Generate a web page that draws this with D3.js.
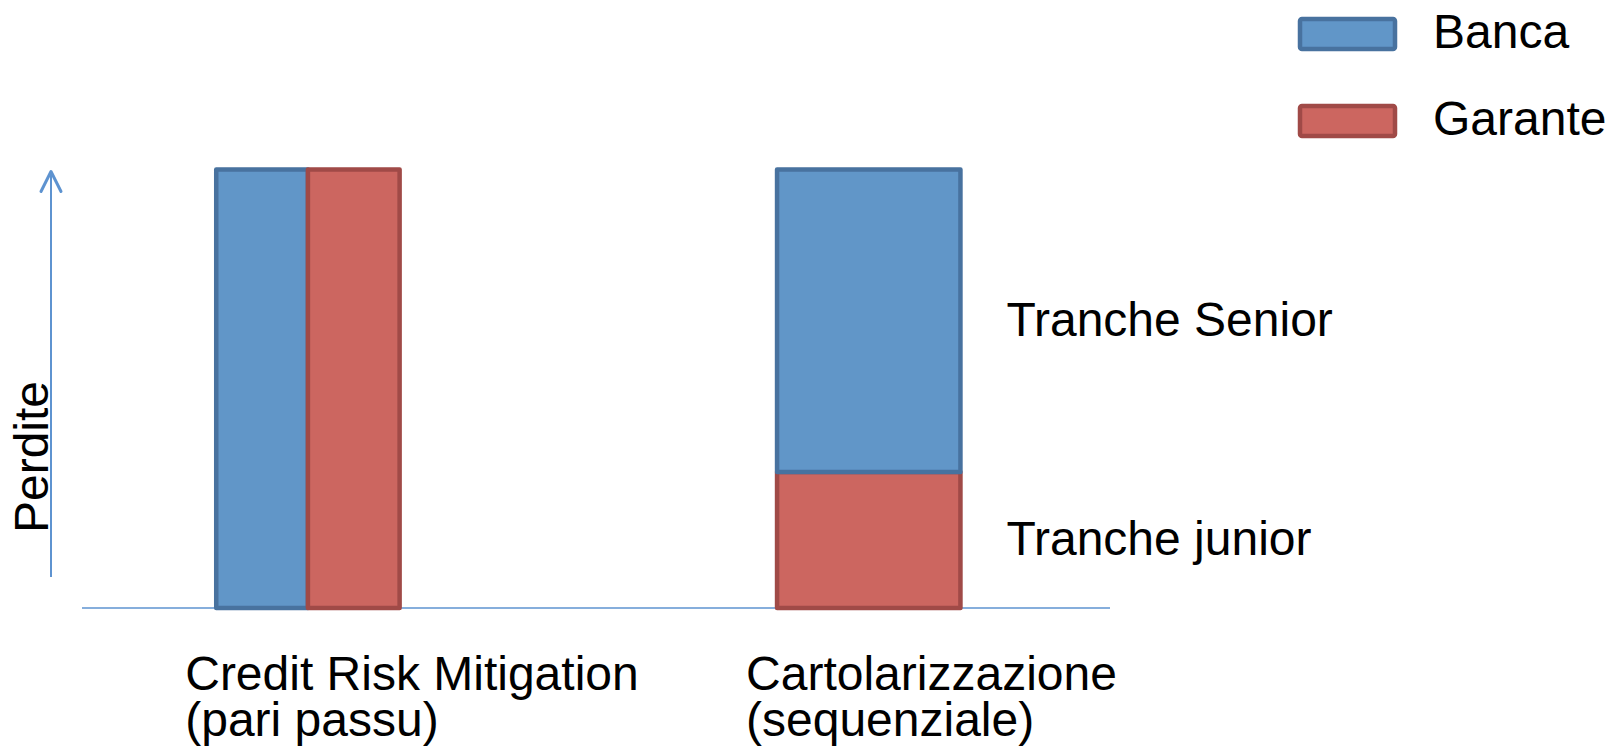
<!DOCTYPE html>
<html>
<head>
<meta charset="utf-8">
<script src="https://cdn.jsdelivr.net/npm/d3@7"></script>
<style>
  html, body { margin: 0; padding: 0; background: #fff; }
  svg text { font-family: "Liberation Sans", Arial, sans-serif; fill: #000; }
</style>
</head>
<body>
<div id="chart"></div>
<script>
// data
const categories = ['Credit Risk Mitigation', 'Cartolarizzazione'];
const categorySubtitles = ['(pari passu)', '(sequenziale)'];
const series = ['Banca', 'Garante'];
// pari passu: both take losses side by side (full height each)
const pariPassu = [100, 100];
// sequenziale: Garante takes the junior tranche first, Banca the senior
const sequenziale = [69, 31];
const trancheLabels = ['Tranche Senior', 'Tranche junior'];
const axisLabel = 'Perdite';

const width = 1615, height = 753;
const fontSize = 48;

const fills = { Banca: '#6196C8', Garante: '#CC6660' };
const strokes = { Banca: '#48729F', Garante: '#A04A47' };
const axisColor = '#5E93D0';

let svg = d3.select('#chart').append('svg')
  .attr('width', width)
  .attr('height', height);

let x = d3.scaleBand()
  .domain(categories)
  .range([82, 1110])
  .paddingInner(0.673)
  .paddingOuter(0.253)
  .align(0.473);

let y = d3.scaleLinear()
  .domain([0, 100])
  .range([608, 169.5]);

let xSub = d3.scaleBand()
  .domain(series)
  .range([0, x.bandwidth()]);

// baseline
svg.append('line')
  .attr('x1', x.range()[0]).attr('x2', x.range()[1])
  .attr('y1', y(0)).attr('y2', y(0))
  .attr('stroke', axisColor)
  .attr('stroke-width', 1.5);

// vertical arrow
svg.append('line')
  .attr('x1', 51).attr('x2', 51)
  .attr('y1', y(0) - 31).attr('y2', y(100) + 2)
  .attr('stroke', axisColor)
  .attr('stroke-width', 2);
svg.append('path')
  .attr('d', `M 41 ${y(100) + 22} L 51 ${y(100) + 2} L 61 ${y(100) + 22}`)
  .attr('fill', 'none')
  .attr('stroke', axisColor)
  .attr('stroke-width', 3)
  .attr('stroke-linecap', 'round')
  .attr('stroke-linejoin', 'round');

svg.append('text')
  .attr('text-anchor', 'middle')
  .attr('transform', `translate(48,457) rotate(-90)`)
  .style('font-size', fontSize + 'px')
  .text(axisLabel);

// group 1: side by side
let g1 = svg.append('g')
  .attr('transform', `translate(${x(categories[0])},0)`);

g1.selectAll('rect')
  .data(series.map((s, i) => ({ key: s, value: pariPassu[i] })))
  .enter().append('rect')
  .attr('x', d => xSub(d.key))
  .attr('y', d => y(d.value))
  .attr('width', xSub.bandwidth())
  .attr('height', d => y(0) - y(d.value))
  .attr('fill', d => fills[d.key])
  .attr('stroke', d => strokes[d.key])
  .attr('stroke-width', 4.5)
  .attr('stroke-linejoin', 'round');

// group 2: stacked, Garante at the bottom
let stackData = [{ Banca: sequenziale[0], Garante: sequenziale[1] }];
let stacked = d3.stack().keys(['Garante', 'Banca'])(stackData);

let g2 = svg.append('g')
  .attr('transform', `translate(${x(categories[1])},0)`);

g2.selectAll('rect')
  .data(stacked)
  .enter().append('rect')
  .attr('x', 0)
  .attr('y', d => y(d[0][1]))
  .attr('width', x.bandwidth())
  .attr('height', d => y(d[0][0]) - y(d[0][1]))
  .attr('fill', d => fills[d.key])
  .attr('stroke', d => strokes[d.key])
  .attr('stroke-width', 4.5)
  .attr('stroke-linejoin', 'round');

// tranche labels, next to each segment
let trancheOrder = ['Banca', 'Garante'];
trancheOrder.forEach((k, i) => {
  let seg = stacked.find(s => s.key === k)[0];
  svg.append('text')
    .attr('x', x(categories[1]) + x.bandwidth() + 46)
    .attr('y', (y(seg[0]) + y(seg[1])) / 2 + 15)
    .style('font-size', fontSize + 'px')
    .text(trancheLabels[i]);
});

// category labels
categories.forEach((c, i) => {
  let t = svg.append('text')
    .attr('x', x(c) - 31)
    .attr('y', 690)
    .style('font-size', fontSize + 'px');
  t.append('tspan').attr('x', x(c) - 31).attr('dy', 0).text(c);
  t.append('tspan').attr('x', x(c) - 31).attr('dy', 46).text(categorySubtitles[i]);
});

// legend
let legend = svg.append('g')
  .attr('transform', 'translate(1300,19)');

let legendItem = legend.selectAll('g')
  .data(series)
  .enter().append('g')
  .attr('transform', (d, i) => `translate(0,${i * 87})`);

legendItem.append('rect')
  .attr('width', 95).attr('height', 30)
  .attr('rx', 2)
  .attr('fill', d => fills[d])
  .attr('stroke', d => strokes[d])
  .attr('stroke-width', 4.5);

legendItem.append('text')
  .attr('x', 133)
  .attr('y', 29)
  .style('font-size', fontSize + 'px')
  .text(d => d);
</script>
</body>
</html>
